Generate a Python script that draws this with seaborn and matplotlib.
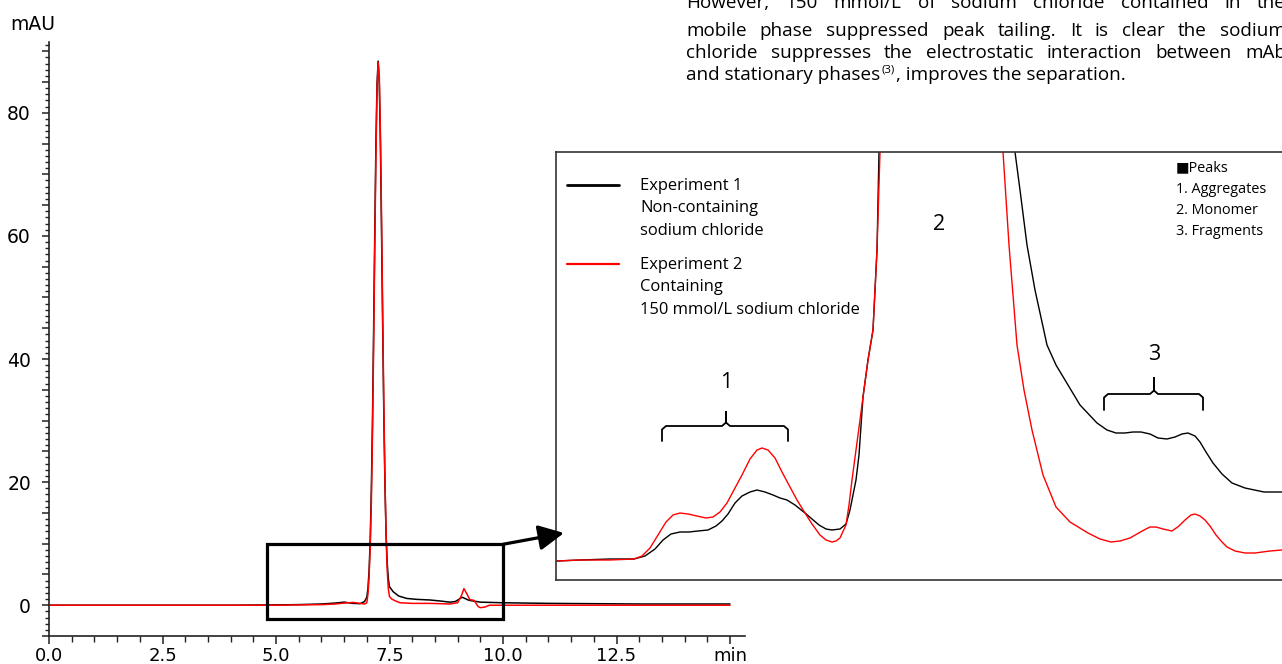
import numpy as np
import pandas as pd
import matplotlib
matplotlib.use("Agg")
import matplotlib.pyplot as plt
import seaborn as sns
from matplotlib.lines import Line2D
from matplotlib.patches import Rectangle, FancyArrowPatch
from matplotlib.ticker import MultipleLocator, FixedLocator, FuncFormatter

# ---------------- data ----------------
main_time_exp1 = [0, 1, 2, 3, 4, 5, 5.5, 6.0, 6.3, 6.5, 6.7, 6.85, 6.95, 7.0, 7.025, 7.05,
                  7.075, 7.1, 7.125, 7.15, 7.175, 7.2, 7.225, 7.25, 7.275, 7.3, 7.325, 7.35,
                  7.375, 7.4, 7.425, 7.45, 7.475, 7.5, 7.58, 7.7, 7.88, 8.1, 8.39, 8.6, 8.83,
                  8.95, 9.1, 9.25, 9.5, 10.0, 11, 12, 13, 14, 15]
main_mau_exp1 = [0, 0, 0, 0, 0, 0.05, 0.1, 0.2, 0.35, 0.5, 0.3, 0.25, 0.6, 1.3, 2.7, 5.6,
                 10.6, 18.8, 30.0, 44.6, 60.0, 74.6, 84.7, 88.4, 84.8, 74.8, 60.4, 45.2,
                 30.8, 19.6, 11.4, 6.8, 4.2, 3.0, 2.2, 1.5, 1.1, 0.95, 0.85, 0.7, 0.5,
                 0.6, 1.3, 0.8, 0.5, 0.4, 0.3, 0.25, 0.2, 0.2, 0.2]

main_time_exp2 = [0, 1, 2, 3, 4, 5, 5.5, 6.0, 6.3, 6.5, 6.7, 6.85, 6.95, 7.0, 7.025, 7.05,
                  7.075, 7.1, 7.125, 7.15, 7.175, 7.2, 7.225, 7.25, 7.275, 7.3, 7.325, 7.35,
                  7.375, 7.4, 7.425, 7.45, 7.475, 7.5, 7.55, 7.63, 7.73, 8.0, 8.39, 8.83,
                  9.0, 9.08, 9.14, 9.2, 9.27, 9.36, 9.45, 9.5, 9.6, 9.7, 10, 12, 15]
main_mau_exp2 = [0, 0, 0, 0, 0, 0, 0.05, 0.1, 0.2, 0.35, 0.45, 0.3, 0.2, 0.4, 1.8, 4.6,
                 9.4, 16.8, 27.8, 42.0, 57.8, 72.6, 83.6, 88.2, 85.8, 76.6, 62.6, 47.2,
                 32.4, 20.2, 11.2, 5.6, 2.6, 1.4, 1.0, 0.7, 0.4, 0.3, 0.3, 0.2,
                 0.4, 1.5, 2.7, 1.9, 0.9, 0.8, -0.2, -0.4, -0.3, 0.0, 0.0, 0.0, 0.0]

inset_time_exp1 = [6.005, 6.12, 6.27, 6.39, 6.445, 6.495, 6.535, 6.575, 6.62, 6.665, 6.71,
                   6.76, 6.80, 6.83, 6.86, 6.895, 6.93, 6.97, 7.005, 7.045, 7.085, 7.12,
                   7.155, 7.195, 7.245, 7.28, 7.315, 7.35, 7.38, 7.42, 7.45, 7.47, 7.485,
                   7.50, 7.515, 7.535, 7.56, 7.585, 7.605, 7.615, 7.625, 7.945,
                   8.28, 8.295, 8.32, 8.355, 8.395, 8.455, 8.50, 8.545, 8.62, 8.705, 8.755,
                   8.80, 8.845, 8.885, 8.925, 8.97, 9.01, 9.055, 9.095, 9.13, 9.16, 9.195,
                   9.22, 9.25, 9.285, 9.33, 9.38, 9.445, 9.54, 9.63, 9.70]
inset_mau_exp1 = [0.00, 0.02, 0.04, 0.04, 0.10, 0.24, 0.42, 0.54, 0.58, 0.58, 0.60,
                  0.62, 0.70, 0.80, 0.94, 1.16, 1.30, 1.38, 1.42, 1.38, 1.32, 1.26,
                  1.22, 1.12, 0.96, 0.84, 0.72, 0.64, 0.62, 0.64, 0.74, 1.02, 1.32,
                  1.62, 2.12, 3.28, 4.02, 4.62, 6.22, 8.18, 9.22, 21.2,
                  9.22, 8.18, 7.42, 6.32, 5.42, 4.32, 3.92, 3.62, 3.12, 2.76, 2.62,
                  2.56, 2.56, 2.58, 2.58, 2.54, 2.46, 2.44, 2.48, 2.54, 2.56, 2.50,
                  2.38, 2.18, 1.96, 1.74, 1.56, 1.46, 1.38, 1.38, 1.36]

inset_time_exp2 = [6.005, 6.12, 6.27, 6.39, 6.43, 6.47, 6.51, 6.55, 6.585, 6.62, 6.66,
                   6.705, 6.75, 6.785, 6.82, 6.855, 6.895, 6.93, 6.97, 7.005, 7.03, 7.06,
                   7.095, 7.13, 7.17, 7.205, 7.245, 7.28, 7.32, 7.35, 7.38, 7.40, 7.42,
                   7.45, 7.465, 7.48, 7.50, 7.52, 7.535, 7.56, 7.585, 7.605, 7.62, 7.63, 7.92,
                   8.22, 8.235, 8.265, 8.305, 8.34, 8.38, 8.435, 8.50, 8.57, 8.66, 8.72,
                   8.775, 8.82, 8.87, 8.905, 8.94, 8.97, 9.00, 9.035, 9.08, 9.115, 9.145,
                   9.175, 9.195, 9.22, 9.245, 9.27, 9.30, 9.33, 9.355, 9.395, 9.445, 9.495,
                   9.57, 9.63, 9.70]
inset_mau_exp2 = [0.00, 0.02, 0.02, 0.04, 0.10, 0.26, 0.52, 0.78, 0.92, 0.96, 0.94,
                  0.90, 0.86, 0.88, 0.98, 1.16, 1.46, 1.72, 2.04, 2.22, 2.26, 2.22,
                  2.06, 1.78, 1.48, 1.22, 0.96, 0.74, 0.52, 0.42, 0.38, 0.40, 0.46,
                  0.72, 1.12, 1.62, 2.22, 2.82, 3.28, 4.02, 4.62, 6.22, 8.18, 9.22, 21.0,
                  9.22, 8.18, 6.32, 4.32, 3.42, 2.62, 1.72, 1.08, 0.78, 0.56, 0.44,
                  0.38, 0.40, 0.46, 0.54, 0.62, 0.68, 0.68, 0.64, 0.60, 0.70, 0.82,
                  0.92, 0.94, 0.90, 0.82, 0.70, 0.52, 0.38, 0.28, 0.20, 0.16, 0.16,
                  0.20, 0.22, 0.24]

series_names = ["Experiment 1", "Experiment 2"]
series_colors = ["#000000", "#ff0000"]
x_tick_values = [0, 2.5, 5.0, 7.5, 10.0, 12.5, 15.0]
x_tick_labels = ["0.0", "2.5", "5.0", "7.5", "10.0", "12.5", "min"]
y_label_values = [0, 20, 40, 60, 80]
y_unit = "mAU"
legend_texts = [["Experiment 1", "Non-containing", "sodium chloride"],
                ["Experiment 2", "Containing", "150 mmol/L sodium chloride"]]
peak_texts = ["\u25A0Peaks", "1. Aggregates", "2. Monomer", "3. Fragments"]
peak_numbers = ["1", "2", "3"]
paragraph_lines = [
    "However, 150 mmol/L of sodium chloride contained in the",
    "mobile phase suppressed peak tailing. It is clear the sodium",
    "chloride suppresses the electrostatic interaction between mAb",
]
paragraph_last = ["and stationary phases", "(3)", ", improves the separation."]

# ---------------- figure ----------------
sns.set_style("ticks")
plt.rcParams["font.family"] = ["DejaVu Sans"]
plt.rcParams["text.color"] = "black"
plt.rcParams["xtick.color"] = "#222222"
plt.rcParams["ytick.color"] = "#222222"
plt.rcParams["xtick.labelcolor"] = "black"
plt.rcParams["ytick.labelcolor"] = "black"
W, H = 1282, 664
fig = plt.figure(figsize=(W / 100, H / 100), dpi=100)


def fx(px):
    return px / W


def fy(py):
    return 1 - py / H


main_df = pd.concat([
    pd.DataFrame({"time": main_time_exp1, "mau": main_mau_exp1, "experiment": series_names[0]}),
    pd.DataFrame({"time": main_time_exp2, "mau": main_mau_exp2, "experiment": series_names[1]}),
])
inset_df = pd.concat([
    pd.DataFrame({"time": inset_time_exp1, "mau": inset_mau_exp1, "experiment": series_names[0]}),
    pd.DataFrame({"time": inset_time_exp2, "mau": inset_mau_exp2, "experiment": series_names[1]}),
])
palette = dict(zip(series_names, series_colors))

# main axes
ax = fig.add_axes([fx(49), fy(636), (745 - 49) / W, (636 - 42) / H])
sns.lineplot(data=main_df, x="time", y="mau", hue="experiment", palette=palette,
             estimator=None, sort=False, legend=False, linewidth=1.1, ax=ax)
ax.set_xlim(0, 15.33)
ax.set_ylim(-5, 91.5)
ax.set_xlabel("")
ax.set_ylabel("")
for s in ["top", "right"]:
    ax.spines[s].set_visible(False)
for s in ["left", "bottom"]:
    ax.spines[s].set_color("#222222")
    ax.spines[s].set_linewidth(1.2)
ax.set_xticks(x_tick_values)
ax.set_xticklabels(x_tick_labels)
ax.xaxis.set_minor_locator(MultipleLocator(0.5))
ax.yaxis.set_major_locator(FixedLocator(list(np.arange(-5, 91, 5))))
ax.yaxis.set_major_formatter(FuncFormatter(
    lambda v, p: f"{int(round(v))}" if int(round(v)) in y_label_values else ""))
ax.yaxis.set_minor_locator(MultipleLocator(1))
ax.tick_params(axis="x", which="major", direction="out", length=6, width=1.1,
               labelsize=13, pad=2)
ax.tick_params(axis="x", which="minor", direction="out", length=4, width=1.0)
ax.tick_params(axis="y", which="major", direction="out", length=5, width=1.1,
               labelsize=13.5, pad=8)
ax.tick_params(axis="y", which="minor", direction="out", length=3, width=1.0)
fig.text(fx(33), fy(24), y_unit, ha="center", va="center", fontsize=13.5)

ax.add_patch(Rectangle((4.8, -2.3), 5.2, 12.2, fill=False, lw=2.3, ec="black", zorder=5))

# inset axes
ax_in = fig.add_axes([fx(556), fy(580), (1296 - 556) / W, (580 - 152) / H], zorder=3)
ax_in.set_facecolor("white")
sns.lineplot(data=inset_df, x="time", y="mau", hue="experiment", palette=palette,
             estimator=None, sort=False, legend=False, linewidth=1.0, ax=ax_in)
ax_in.set_xlim(6.0, 9.7)
ax_in.set_ylim(-0.38, 8.18)
ax_in.set_xticks([])
ax_in.set_yticks([])
ax_in.set_xlabel("")
ax_in.set_ylabel("")
for s in ax_in.spines.values():
    s.set_color("#333333")
    s.set_linewidth(1.2)

TXT = ["Open Sans", "DejaVu Sans"]


def bracket(a, x0, x1, xc, yh, yend, ytip, dx=0.02, dy=0.07):
    xs = [x0, x0, x0 + dx, xc - dx, xc, xc, xc, xc + dx, x1 - dx, x1, x1]
    ys = [yend, yh - dy, yh, yh, yh + dy, ytip, yh + dy, yh, yh, yh - dy, yend]
    a.plot(xs, ys, color="black", lw=1.3, solid_joinstyle="round")


bracket(ax_in, 6.53, 7.16, 6.85, 2.70, 2.40, 2.98)
bracket(ax_in, 8.74, 9.235, 8.99, 3.34, 3.02, 3.66)
for lab, (tx, ty) in zip(peak_numbers, [(6.85, 3.56), (7.915, 6.74), (8.99, 4.12)]):
    ax_in.text(tx, ty, lab, ha="center", va="center", fontsize=15.5, family=TXT)

# legend (manual)
for color, lw, ly, lines in [(series_colors[0], 2.0, 185, legend_texts[0]),
                             (series_colors[1], 1.6, 264, legend_texts[1])]:
    fig.add_artist(Line2D([fx(567), fx(619)], [fy(ly), fy(ly)], color=color, lw=lw,
                          transform=fig.transFigure, zorder=10))
    for i, t in enumerate(lines):
        fig.text(fx(640), fy(ly + 1 + i * 22.3), t, ha="left", va="center",
                 fontsize=11.9, family=TXT, zorder=10)

for i, t in enumerate(peak_texts):
    fig.text(fx(1176), fy(168 + i * 21.3), t, ha="left", va="center",
             fontsize=10.4, family=TXT, zorder=10)

# arrow from rectangle to inset
start = fig.transFigure.inverted().transform(ax.transData.transform((10.0, 9.9)))
fig.add_artist(FancyArrowPatch(tuple(start), (fx(564), fy(533)), transform=fig.transFigure,
                               arrowstyle="-|>,head_length=0.7,head_width=0.35",
                               mutation_scale=22, lw=2.3, color="black",
                               shrinkA=0, shrinkB=0, zorder=20))

# paragraph (justified)
renderer = fig.canvas.get_renderer()
PFS = 13.6
x_left, x_right = 686, 1286
baselines = [8, 36, 58]
for line, ybase in zip(paragraph_lines, baselines):
    words = line.split(" ")
    ts = [fig.text(0, fy(ybase), w, ha="left", va="baseline", fontsize=PFS, family=TXT)
          for w in words]
    widths = [t.get_window_extent(renderer).width for t in ts]
    gap = (x_right - x_left - sum(widths)) / (len(words) - 1)
    xpos = x_left
    for t, w in zip(ts, widths):
        t.set_x(fx(xpos))
        xpos += w + gap

ybase = 80
t1 = fig.text(fx(x_left), fy(ybase), paragraph_last[0], ha="left", va="baseline",
              fontsize=PFS, family=TXT)
w1 = t1.get_window_extent(renderer).width
t2 = fig.text(fx(x_left + w1 + 1), fy(ybase - 7), paragraph_last[1], ha="left",
              va="baseline", fontsize=PFS * 0.6, family=TXT)
w2 = t2.get_window_extent(renderer).width
fig.text(fx(x_left + w1 + 1 + w2 + 1), fy(ybase), paragraph_last[2], ha="left",
         va="baseline", fontsize=PFS, family=TXT)

fig.savefig("out.png", dpi=100)
